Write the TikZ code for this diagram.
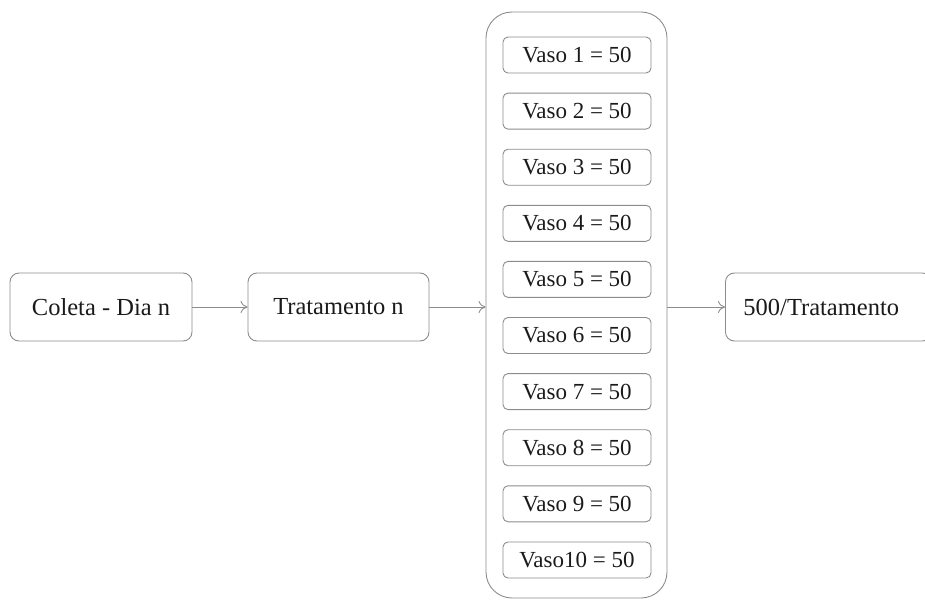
\documentclass[tikz,border=0pt]{standalone}
\usepackage{fontspec}
\setmainfont{Liberation Serif}
\usetikzlibrary{arrows.meta}
\definecolor{edge}{HTML}{8C8C8C}
\definecolor{txt}{HTML}{1A1A1A}
\tikzset{
  procbox/.style={draw=edge, line width=0.9pt, rounded corners=9pt, minimum height=68pt, text=txt, font=\fontsize{24.5}{28}\selectfont, inner sep=0pt},
  vasobox/.style={draw=edge, line width=0.9pt, rounded corners=5pt, minimum width=148pt, minimum height=36pt, text=txt, font=\fontsize{23}{26}\selectfont, inner sep=0pt},
  container/.style={draw=edge, line width=0.9pt, rounded corners=26pt},
  flow/.style={draw=edge, line width=0.9pt, -{To[length=7pt,width=12pt]}}
}
\begin{document}
\begin{tikzpicture}[x=1pt,y=-1pt]
\useasboundingbox (0,0) rectangle (925,599);
\clip (0,0) rectangle (925,599);
\node[procbox, minimum width=182pt] (coleta) at (101,307) {Coleta - Dia n};
\node[procbox, minimum width=181pt] (trat) at (338.5,307) {Tratamento n};
\node[container, minimum width=181pt, minimum height=586pt] (vasos) at (576.5,305) {};
\node[procbox, anchor=west, text width=170pt, inner xsep=18pt, align=left] (res) at (725,307) {500/Tratamento};
\foreach \i in {1,...,9} {
  \node[vasobox] (v\i) at (577,{55+(\i-1)*56.1}) {Vaso \i\ = 50};
}
\node[vasobox] (v10) at (577,560) {Vaso10 = 50};
\draw[flow] (coleta.east) -- (trat.west);
\draw[flow] (trat.east) -- (trat.east -| vasos.west);
\draw[flow] (res.west -| vasos.east) -- (res.west);
\end{tikzpicture}
\end{document}
